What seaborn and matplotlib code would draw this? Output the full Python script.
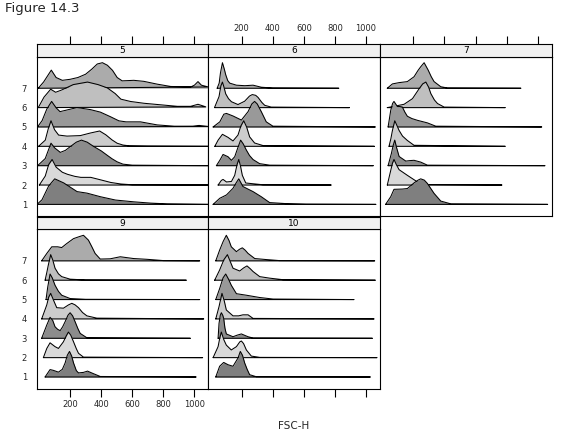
"""Ridgeline densities of FSC-H per well, one panel per plate (lattice style)."""

import matplotlib

matplotlib.use("Agg")
import matplotlib.pyplot as plt
import pandas as pd
import seaborn as sns

sns.set_theme(style="white")
plt.rcParams["font.family"] = ["DejaVu Sans"]

PANELS = ["5", "6", "7", "9", "10"]
LEVELS = [1, 2, 3, 4, 5, 6, 7]
X_TICKS = [200, 400, 600, 800, 1000]
FILL_GREYS = ["#7f7f7f", "#d9d9d9", "#8c8c8c", "#cccccc", "#999999", "#bfbfbf", "#ababab"]

# knots of each ridge, level 1 first: FSC-H value and density relative to the ridge peak
p5_x = [
    [-13, 19, 62, 101, 159, 245, 309, 395, 492, 610, 718, 825, 1090],
    [2, 40, 62, 84, 110, 150, 183, 230, 269, 333, 398, 462, 527, 600, 1090],
    [-9, 40, 77, 100, 137, 170, 202, 240, 273, 310, 352, 400, 438, 470, 503, 540, 600, 1090],
    [-3, 40, 60, 77, 100, 126, 180, 266, 330, 390, 430, 470, 503, 540, 580, 700, 1090],
    [-10, 20, 50, 81, 110, 135, 170, 245, 330, 395, 460, 514, 560, 653, 761, 870, 990, 1030, 1090],
    [-5, 32, 75, 107, 150, 220, 312, 380, 440, 490, 527, 589, 675, 782, 890, 976, 1023, 1073],
    [-5, 30, 79, 110, 150, 200, 250, 300, 340, 375, 408, 440, 473, 503, 535, 575, 610, 675,
     761, 847, 976, 1000, 1023, 1045, 1090],
]
p5_h = [
    [0, 0.18, 0.72, 1.0, 0.84, 0.5, 0.44, 0.3, 0.17, 0.1, 0.05, 0.02, 0],
    [0, 0.35, 0.8, 1.0, 0.7, 0.5, 0.42, 0.34, 0.3, 0.3, 0.2, 0.1, 0.04, 0.01, 0],
    [0, 0.28, 0.88, 0.7, 0.52, 0.6, 0.75, 0.92, 1.0, 0.92, 0.75, 0.58, 0.41, 0.27, 0.15, 0.06, 0.02, 0],
    [0, 0.24, 0.7, 1.0, 0.65, 0.44, 0.4, 0.42, 0.52, 0.6, 0.45, 0.25, 0.12, 0.05, 0.02, 0.01, 0],
    [0, 0.25, 0.7, 1.0, 0.75, 0.6, 0.65, 0.76, 0.68, 0.58, 0.4, 0.24, 0.2, 0.2, 0.08, 0.03, 0.03, 0.06, 0.02],
    [0, 0.41, 0.72, 0.6, 0.7, 0.9, 1.0, 0.9, 0.77, 0.55, 0.33, 0.24, 0.17, 0.11, 0.05, 0.05, 0.13, 0.03],
    [0, 0.25, 0.71, 0.42, 0.31, 0.35, 0.42, 0.55, 0.75, 0.95, 1.0, 0.9, 0.7, 0.42, 0.29, 0.3, 0.31, 0.27,
     0.16, 0.07, 0.05, 0.12, 0.26, 0.12, 0.05],
]

p6_x = [
    [16, 59, 102, 144, 165, 181, 208, 240, 273, 326, 380, 487, 615, 1064],
    [48, 69, 80, 102, 134, 155, 170, 181, 192, 204, 226, 273, 337, 776],
    [37, 59, 80, 112, 134, 155, 175, 193, 210, 230, 250, 273, 315, 380, 1047],
    [27, 48, 76, 112, 144, 176, 195, 213, 232, 251, 283, 337, 1054],
    [16, 59, 85, 102, 144, 198, 241, 265, 283, 300, 326, 358, 401, 1060],
    [25, 54, 66, 76, 86, 97, 115, 134, 176, 219, 250, 268, 290, 305, 330, 348, 390, 893],
    [42, 55, 63, 76, 88, 97, 110, 123, 166, 220, 273, 326, 400, 825],
]
p6_h = [
    [0, 0.24, 0.37, 0.63, 0.85, 1.0, 0.7, 0.6, 0.5, 0.3, 0.07, 0.03, 0.01, 0],
    [0, 0.18, 0.22, 0.12, 0.14, 0.38, 0.8, 1.0, 0.75, 0.38, 0.08, 0.05, 0.01, 0],
    [0, 0.21, 0.44, 0.35, 0.21, 0.35, 0.7, 1.0, 0.85, 0.61, 0.4, 0.24, 0.08, 0.02, 0],
    [0, 0.24, 0.47, 0.35, 0.21, 0.44, 0.8, 1.0, 0.75, 0.37, 0.13, 0.03, 0],
    [0, 0.2, 0.5, 0.53, 0.43, 0.27, 0.6, 0.9, 1.0, 0.9, 0.6, 0.2, 0.03, 0],
    [0, 0.43, 0.85, 1.0, 0.8, 0.54, 0.35, 0.23, 0.12, 0.25, 0.45, 0.51, 0.48, 0.4, 0.2, 0.09, 0.02, 0],
    [0, 0.2, 0.59, 1.0, 0.75, 0.53, 0.3, 0.2, 0.12, 0.1, 0.12, 0.04, 0.01, 0],
]

p7_x = [
    [21, 54, 75, 129, 161, 204, 230, 247, 270, 290, 333, 376, 441, 1064],
    [32, 54, 65, 75, 90, 108, 161, 226, 269, 770],
    [37, 58, 70, 80, 92, 108, 151, 180, 204, 247, 290, 1047],
    [43, 55, 65, 80, 95, 108, 130, 161, 204, 791],
    [37, 45, 54, 66, 75, 86, 97, 112, 129, 145, 161, 190, 226, 290, 344, 1026],
    [32, 75, 140, 194, 237, 260, 280, 298, 312, 335, 355, 398, 791],
    [32, 65, 108, 161, 204, 230, 247, 269, 295, 315, 333, 376, 419, 892],
]
p7_h = [
    [0, 0.3, 0.59, 0.6, 0.62, 0.84, 0.95, 1.0, 0.95, 0.82, 0.43, 0.13, 0.02, 0],
    [0, 0.57, 0.85, 1.0, 0.8, 0.6, 0.38, 0.12, 0.02, 0],
    [0, 0.47, 0.8, 1.0, 0.7, 0.36, 0.18, 0.2, 0.21, 0.14, 0.02, 0],
    [0, 0.3, 0.62, 1.0, 0.8, 0.62, 0.4, 0.23, 0.04, 0],
    [0, 0.3, 0.65, 0.92, 1.0, 0.9, 0.8, 0.8, 0.78, 0.58, 0.42, 0.33, 0.26, 0.16, 0.03, 0],
    [0, 0.05, 0.13, 0.35, 0.74, 0.93, 1.0, 0.8, 0.55, 0.3, 0.16, 0.02, 0],
    [0, 0.17, 0.22, 0.26, 0.45, 0.7, 0.84, 1.0, 0.71, 0.45, 0.26, 0.06, 0.01, 0],
]

p9_x = [
    [39, 71, 92, 125, 150, 168, 182, 196, 210, 222, 240, 254, 286, 312, 350, 394, 1011],
    [28, 50, 71, 103, 125, 157, 175, 189, 204, 222, 240, 254, 286, 1053],
    [17, 50, 71, 88, 103, 120, 136, 152, 168, 186, 200, 216, 232, 250, 265, 308, 974],
    [17, 50, 62, 75, 92, 114, 157, 190, 211, 232, 254, 280, 308, 372, 1060],
    [45, 56, 71, 85, 103, 125, 146, 200, 300, 1034],
    [39, 50, 60, 75, 88, 103, 125, 146, 200, 300, 948],
    [17, 50, 82, 120, 146, 179, 222, 260, 286, 318, 340, 361, 394, 458, 523, 609, 695, 802, 1034],
]
p9_h = [
    [0, 0.29, 0.26, 0.19, 0.3, 0.55, 0.85, 1.0, 0.82, 0.55, 0.25, 0.16, 0.18, 0.23, 0.13, 0.02, 0],
    [0, 0.36, 0.58, 0.43, 0.36, 0.62, 0.85, 1.0, 0.88, 0.62, 0.35, 0.17, 0.02, 0],
    [0, 0.52, 0.82, 0.7, 0.45, 0.35, 0.3, 0.45, 0.65, 0.9, 1.0, 0.88, 0.65, 0.38, 0.19, 0.02, 0],
    [0, 0.55, 0.85, 1.0, 0.75, 0.44, 0.42, 0.55, 0.61, 0.55, 0.44, 0.25, 0.12, 0.03, 0],
    [0, 0.49, 1.0, 0.85, 0.56, 0.32, 0.17, 0.04, 0.01, 0],
    [0, 0.3, 0.6, 1.0, 0.8, 0.47, 0.25, 0.14, 0.04, 0.01, 0],
    [0, 0.29, 0.55, 0.55, 0.52, 0.68, 0.87, 0.95, 1.0, 0.81, 0.55, 0.29, 0.07, 0.08, 0.16, 0.09, 0.06, 0.01, 0],
]

p10_x = [
    [33, 58, 84, 112, 144, 176, 191, 205, 219, 235, 251, 294, 1028],
    [16, 48, 60, 69, 85, 101, 133, 166, 188, 198, 212, 230, 262, 316, 1071],
    [48, 54, 62, 69, 78, 84, 92, 101, 144, 170, 198, 225, 241, 273, 1041],
    [33, 54, 73, 88, 101, 144, 180, 208, 241, 273, 1052],
    [33, 58, 80, 97, 115, 133, 166, 230, 316, 402, 923],
    [26, 58, 85, 108, 125, 144, 187, 212, 234, 255, 273, 316, 380, 466, 1060],
    [33, 58, 80, 101, 118, 133, 166, 185, 204, 222, 241, 284, 359, 444, 1056],
]
p10_h = [
    [0, 0.42, 0.57, 0.48, 0.42, 0.74, 1.0, 0.85, 0.55, 0.3, 0.09, 0.01, 0],
    [0, 0.43, 0.8, 1.0, 0.7, 0.49, 0.3, 0.43, 0.62, 0.65, 0.55, 0.3, 0.06, 0.01, 0],
    [0, 0.58, 0.9, 1.0, 0.9, 0.78, 0.4, 0.17, 0.06, 0.12, 0.17, 0.1, 0.06, 0.01, 0],
    [0, 0.48, 1.0, 0.7, 0.35, 0.12, 0.12, 0.16, 0.16, 0.02, 0],
    [0, 0.43, 0.85, 1.0, 0.8, 0.56, 0.23, 0.17, 0.08, 0.02, 0],
    [0, 0.4, 0.8, 1.0, 0.75, 0.47, 0.36, 0.48, 0.56, 0.45, 0.34, 0.14, 0.08, 0.02, 0],
    [0, 0.42, 0.75, 1.0, 0.8, 0.55, 0.36, 0.45, 0.51, 0.42, 0.29, 0.09, 0.05, 0.01, 0],
]

# layout in pixels (figure is 579 x 445)
W, H = 579, 445
COL_LEFT = [36.7, 208.3, 380.0]
COL_W = 171.7
ROW_TOP = [56.7, 229.3]
PANEL_H = 159.3
STRIP_H = 12.7
GRID = {"5": (0, 0), "6": (0, 1), "7": (0, 2), "9": (1, 0), "10": (1, 1)}
XLIM = (-15, 1090)
YLIM = (0.40, 8.63)
PEAK = 1.32


def build_frame() -> pd.DataFrame:
    """Long table of ridge knots: panel, level, FSC-H, relative density."""
    rows = []
    sources = {"5": (p5_x, p5_h), "6": (p6_x, p6_h), "7": (p7_x, p7_h),
               "9": (p9_x, p9_h), "10": (p10_x, p10_h)}
    for panel, (xs, hs) in sources.items():
        for level, x_vals, h_vals in zip(LEVELS, xs, hs):
            for order, (x, h) in enumerate(zip(x_vals, h_vals)):
                rows.append({"panel": panel, "level": level, "order": order, "fsc": x, "dens": h})
    return pd.DataFrame(rows)


def draw_panel(ax, sub: pd.DataFrame) -> None:
    for level in reversed(LEVELS):
        ridge = sub[sub["level"] == level].sort_values("order")
        top = level + ridge["dens"] * PEAK
        z = 2 + (8 - level)
        ax.fill_between(ridge["fsc"], level, top, color=FILL_GREYS[level - 1],
                        linewidth=0, zorder=z)
        outline = pd.DataFrame({
            "fsc": list(ridge["fsc"]) + [ridge["fsc"].iloc[0]],
            "y": list(top) + [level],
        })
        sns.lineplot(data=outline, x="fsc", y="y", sort=False, estimator=None,
                     color="black", linewidth=0.75, ax=ax, zorder=z + 0.5)


def main() -> None:
    data = build_frame()
    fig = plt.figure(figsize=(W / 100, H / 100), dpi=100)
    fig.patch.set_facecolor("white")

    for panel in PANELS:
        row, col = GRID[panel]
        left = COL_LEFT[col]
        top = ROW_TOP[row]
        ax = fig.add_axes([left / W, 1 - (top + PANEL_H) / H, COL_W / W, PANEL_H / H])
        draw_panel(ax, data[data["panel"] == panel])
        ax.set_xlim(*XLIM)
        ax.set_ylim(*YLIM)
        ax.set_xlabel("")
        ax.set_ylabel("")
        ax.set_facecolor("white")
        for spine in ax.spines.values():
            spine.set_color("black")
            spine.set_linewidth(0.8)

        if col == 0:
            ax.set_yticks(LEVELS)
            ax.set_yticklabels([str(v) for v in LEVELS], fontsize=6)
            ax.tick_params(axis="y", left=True, length=0, pad=7)
        else:
            ax.set_yticks([])

        if row == 1:
            ax.set_xticks(X_TICKS)
            ax.tick_params(axis="x", bottom=True, direction="out", length=6,
                           width=0.8, color="black", labelsize=6, pad=2,
                           labelbottom=(col == 0))
        else:
            ax.set_xticks([])

        strip = fig.add_axes([left / W, 1 - top / H, COL_W / W, STRIP_H / H])
        strip.set_facecolor("#f0f0f0")
        strip.set_xlim(*XLIM)
        strip.set_ylim(0, 1)
        strip.set_yticks([])
        for spine in strip.spines.values():
            spine.set_color("black")
            spine.set_linewidth(0.8)
        strip.text(0.5, 0.45, panel, transform=strip.transAxes, ha="center",
                   va="center", fontsize=6.5, color="black")
        if row == 0:
            strip.set_xticks(X_TICKS)
            strip.xaxis.tick_top()
            strip.tick_params(axis="x", top=True, bottom=False, direction="out",
                              length=6, width=0.8, color="black", labelsize=6,
                              pad=2, labeltop=(col == 1), labelbottom=False)
        else:
            strip.set_xticks([])

    fig.text(294 / W, 1 - 426 / H, "FSC-H", ha="center", va="center", fontsize=7.5)
    fig.text(5 / W, 1 - 2 / H, "Figure 14.3", ha="left", va="top", fontsize=9.5)
    fig.savefig("out.png", dpi=100, facecolor="white")
    plt.close(fig)


if __name__ == "__main__":
    main()
